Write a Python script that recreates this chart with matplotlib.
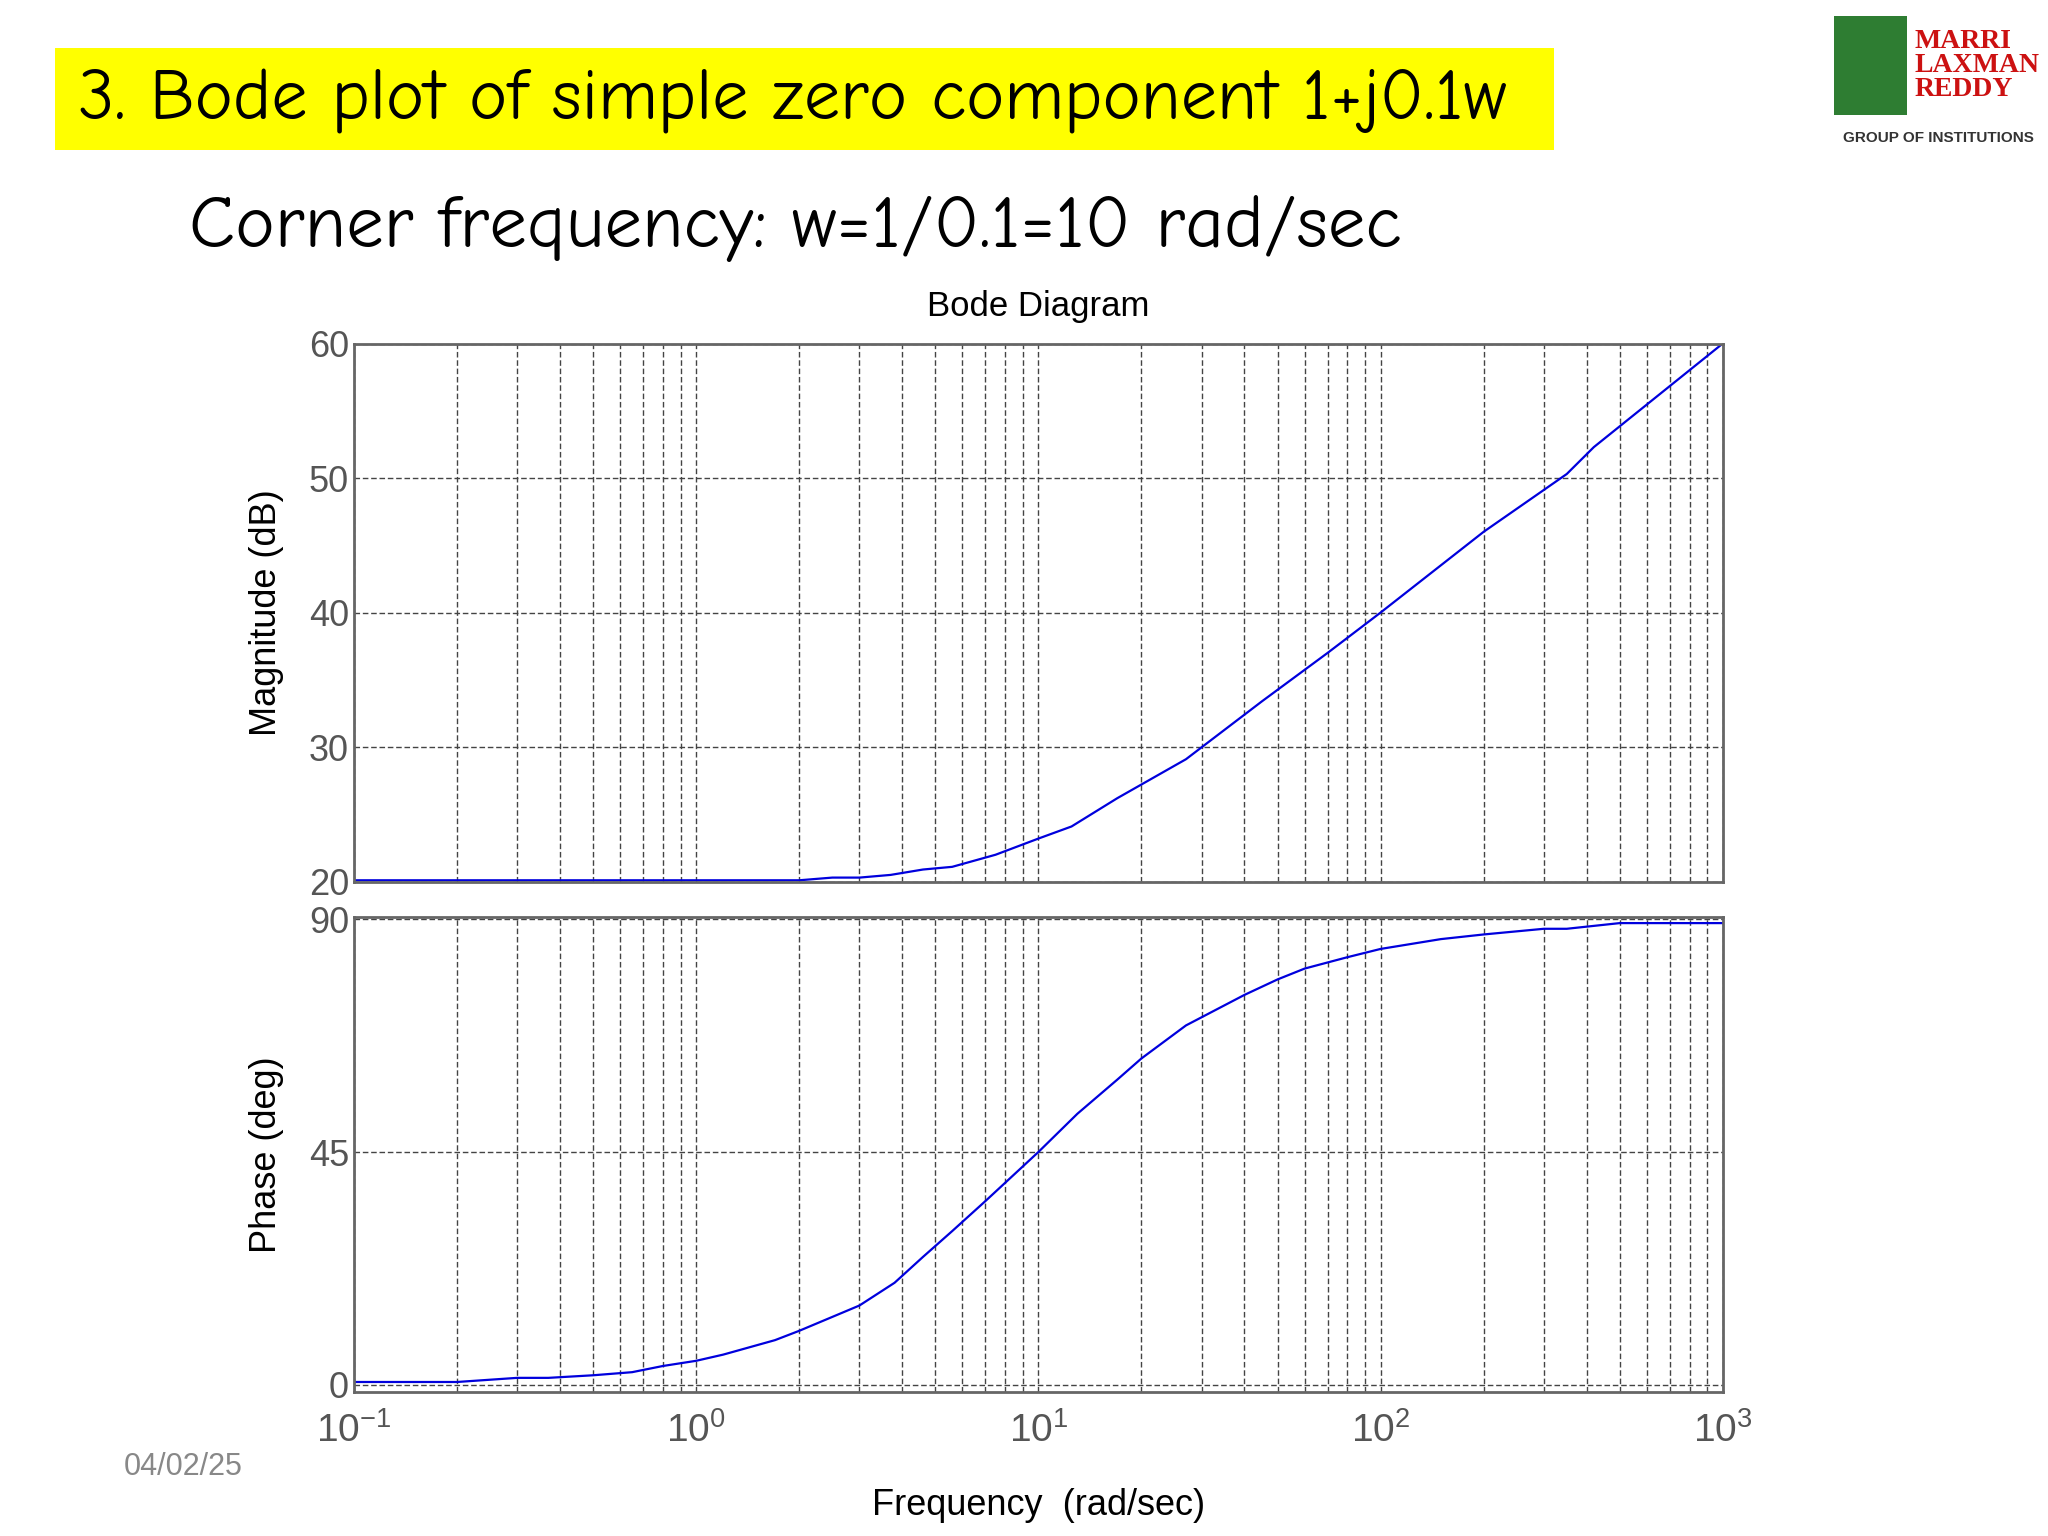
import numpy as np
import matplotlib
matplotlib.use("Agg")
import matplotlib.pyplot as plt
from matplotlib.patches import Rectangle

# Values
mag_w = [0.1, 2, 2.5, 3, 3.7, 4.6, 5.6, 7.5, 10, 12.5, 17, 27, 45, 70, 100, 200, 350, 420, 1000]
mag_db = [20.1, 20.1, 20.3, 20.3, 20.5, 20.9, 21.1, 22.0, 23.2, 24.1, 26.2, 29.1, 33.4, 37.0, 40.0, 46.0, 50.3, 52.3, 60.0]
ph_w = [0.1, 0.2, 0.3, 0.37, 0.5, 0.65, 0.8, 1, 1.2, 1.7, 2, 3, 3.8, 4.6, 5.6, 7, 10, 13, 17, 20,
        27, 40, 50, 60, 80, 100, 150, 200, 300, 350, 500, 1000]
ph_deg = [0.5, 0.5, 1.3, 1.3, 1.8, 2.4, 3.6, 4.6, 5.8, 8.6, 10.4, 15.3, 19.7, 24.7, 29.7, 35.5, 45, 52.4, 59.0, 63.1,
          69.5, 75.4, 78.4, 80.5, 82.7, 84.3, 86.2, 87.1, 88.2, 88.2, 89.3, 89.3]
mag_ticks = [20, 30, 40, 50, 60]
ph_ticks = [0, 45, 90]
decades = [0.1, 1, 10, 100, 1000]

plt.rcParams["font.family"] = ["Liberation Sans", "DejaVu Sans"]
plt.rcParams["mathtext.fontset"] = "custom"
plt.rcParams["mathtext.rm"] = "Liberation Sans"

W, H = 1568, 1176
fig = plt.figure(figsize=(20.48, 15.36), dpi=100)
fig.patch.set_facecolor("white")

def fx(x):
    return x / W

def fy(y):
    return 1 - y / H

grey = "#555555"
ax1 = fig.add_axes([fx(271), fy(675), fx(1319) - fx(271), fy(263) - fy(675)])
ax2 = fig.add_axes([fx(271), fy(1066), fx(1319) - fx(271), fy(702) - fy(1066)])

for ax in (ax1, ax2):
    ax.set_xscale("log")
    ax.set_xlim(0.1, 1000)
    ax.grid(True, which="both", axis="x", color="#444444", linestyle=(0, (4, 2)), linewidth=1.0)
    ax.grid(True, which="major", axis="y", color="#444444", linestyle=(0, (4, 2)), linewidth=1.0)
    for s in ax.spines.values():
        s.set_color("#666666")
        s.set_linewidth(2)
    ax.tick_params(which="both", length=0, colors=grey, labelsize=26)

ax1.plot(mag_w, mag_db, color="#0000dd", linewidth=1.6)
ax1.set_ylim(20, 60)
ax1.set_yticks(mag_ticks)
ax1.tick_params(axis="x", which="both", labelbottom=False)
ax1.set_ylabel("Magnitude (dB)", fontsize=26, color="black", labelpad=18)
ax1.set_title("Bode Diagram", fontsize=25, pad=20)

ax2.plot(ph_w, ph_deg, color="#0000dd", linewidth=1.6)
ax2.set_ylim(-1.5, 90.5)
ax2.set_yticks(ph_ticks)
ax2.set_xticks(decades)
ax2.set_xticklabels([r"$10^{%d}$" % int(np.log10(d)) for d in decades])
ax2.tick_params(axis="x", pad=14, labelsize=28)
ax2.set_ylabel("Phase (deg)", fontsize=26, color="black", labelpad=18)
ax2.set_xlabel("Frequency  (rad/sec)", fontsize=26, labelpad=28)

# slide decorations
fig.patches.append(Rectangle((fx(42), fy(115)), fx(1190) - fx(42), fy(37) - fy(115),
                             transform=fig.transFigure, facecolor="#ffff00", edgecolor="none"))
title_font = ["Comic Neue", "Comic Sans MS", "Lato", "DejaVu Sans"]
fig.text(fx(60), fy(78), "3. Bode plot of simple zero component 1+j0.1w", fontsize=52,
         va="center", ha="left", family=title_font)
fig.text(fx(145), fy(175), "Corner frequency: w=1/0.1=10 rad/sec", fontsize=54,
         va="center", ha="left", family=title_font)
fig.text(fx(95), fy(1123), "04/02/25", fontsize=22, color="#888888", va="center")
fig.text(fx(1466), fy(50), "MARRI\nLAXMAN\nREDDY", fontsize=20, color="#cc1111", fontweight="bold",
         family="Liberation Serif", va="center", ha="left", linespacing=0.95)
fig.text(fx(1484), fy(106), "GROUP OF INSTITUTIONS", fontsize=11, color="#333333", fontweight="bold",
         va="center", ha="center")
fig.patches.append(Rectangle((fx(1404), fy(88)), fx(56), fy(0) - fy(76),
                             transform=fig.transFigure, facecolor="#2e7d32", edgecolor="none"))

fig.savefig("out.png", dpi=100)
